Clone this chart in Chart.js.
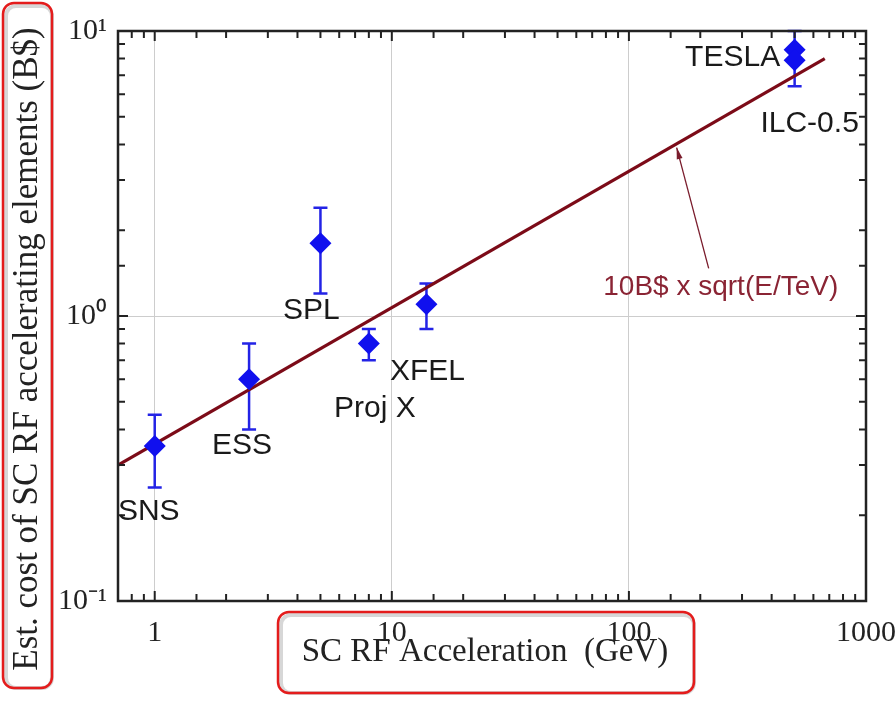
<!DOCTYPE html>
<html>
<head>
<meta charset="utf-8">
<title>SC RF cost vs acceleration</title>
<script src="https://cdn.jsdelivr.net/npm/chart.js@4.4.1/dist/chart.umd.min.js"></script>
<style>
	html, body { margin: 0; padding: 0; background: #fff; }
	#wrap { width: 896px; height: 704px; }
</style>
</head>
<body>
<div id="wrap"><canvas id="costChart" width="896" height="704"></canvas></div>
<script>
// Machines and estimated cost of their SC RF accelerating elements (B$)
const machines = ['SNS', 'ESS', 'SPL', 'Proj X', 'XFEL', 'TESLA', 'ILC-0.5'];
const energyGeV = [1, 2.5, 5, 8, 14, 500, 500];
const costBS = [0.35, 0.6, 1.8, 0.8, 1.1, 8.6, 7.9];
const costLow = [0.25, 0.4, 1.2, 0.7, 0.9, 8.0, 6.4];
const costHigh = [0.45, 0.8, 2.4, 0.9, 1.3, 10, 8.6];

// 10B$ x sqrt(E/TeV) scaling line, end points
const fitX = [0.7, 670];
const fitY = [0.30, 8.0];

// tick labels at the decades
const xTickLabels = { 1: '1', 10: '10', 100: '100', 1000: '1000' };
const yTickLabels = { '-1': '10\u207B\u00B9', '0': '10\u2070', '1': '10\u00B9' };

// label placement next to each point (pixels from the marker centre)
const labelOffsets = [[-6, 66], [-7, 67], [-9, 67], [6, 65], [1, 68], [-62, 8], [15, 64]];

// arrow + text for the scaling law (in data units)
const fitNote = { text: '10B$ x sqrt(E/TeV)', tip: [159, 3.9], tail: [217, 1.47], at: [244, 1.26] };

const isDecade = (v) => Math.abs(Math.log10(v) - Math.round(Math.log10(v))) < 1e-6;

const plotDecor = {
	id: 'plotDecor',
	beforeDatasetsDraw(chart) {
		// Error bars go under the diamonds
		const { ctx, scales: { x, y } } = chart;
		ctx.save();
		ctx.strokeStyle = '#2323e6';
		ctx.lineWidth = 2.5;
		energyGeV.forEach((e, i) => {
			const px = x.getPixelForValue(e);
			const top = y.getPixelForValue(costHigh[i]);
			const bot = y.getPixelForValue(costLow[i]);
			ctx.beginPath();
			ctx.moveTo(px, top); ctx.lineTo(px, bot);
			ctx.moveTo(px - 7, top); ctx.lineTo(px + 7, top);
			ctx.moveTo(px - 7, bot); ctx.lineTo(px + 7, bot);
			ctx.stroke();
		});
		ctx.restore();
	},
	afterDraw(chart) {
		const { ctx, chartArea: a, scales: { x, y } } = chart;
		ctx.save();

		// inward tick marks on all four sides
		ctx.strokeStyle = '#222';
		ctx.lineWidth = 2;
		ctx.beginPath();
		x.ticks.forEach((t) => {
			const px = x.getPixelForValue(t.value);
			const len = isDecade(t.value) ? 10 : 7;
			ctx.moveTo(px, a.bottom); ctx.lineTo(px, a.bottom - len);
			ctx.moveTo(px, a.top); ctx.lineTo(px, a.top + len);
		});
		y.ticks.forEach((t) => {
			const py = y.getPixelForValue(t.value);
			const len = isDecade(t.value) ? 10 : 7;
			ctx.moveTo(a.left, py); ctx.lineTo(a.left + len, py);
			ctx.moveTo(a.right, py); ctx.lineTo(a.right - len, py);
		});
		ctx.stroke();

		// frame
		ctx.lineWidth = 2.5;
		ctx.strokeRect(a.left, a.top, a.right - a.left, a.bottom - a.top);

		// machine names
		ctx.fillStyle = '#1a1a1a';
		ctx.font = '30px "Liberation Sans", Arial, sans-serif';
		ctx.textAlign = 'center';
		ctx.textBaseline = 'middle';
		machines.forEach((name, i) => {
			const px = x.getPixelForValue(energyGeV[i]) + labelOffsets[i][0];
			const py = y.getPixelForValue(costBS[i]) + labelOffsets[i][1];
			ctx.fillText(name, px, py);
		});

		// arrow pointing at the scaling line
		const tipX = x.getPixelForValue(fitNote.tip[0]), tipY = y.getPixelForValue(fitNote.tip[1]);
		const tailX = x.getPixelForValue(fitNote.tail[0]), tailY = y.getPixelForValue(fitNote.tail[1]);
		const ang = Math.atan2(tipY - tailY, tipX - tailX);
		ctx.strokeStyle = '#7a1c2c';
		ctx.fillStyle = '#7a1c2c';
		ctx.lineWidth = 1.3;
		ctx.beginPath();
		ctx.moveTo(tailX, tailY); ctx.lineTo(tipX, tipY);
		ctx.stroke();
		ctx.beginPath();
		ctx.moveTo(tipX, tipY);
		ctx.lineTo(tipX - 12 * Math.cos(ang - 0.25), tipY - 12 * Math.sin(ang - 0.25));
		ctx.lineTo(tipX - 12 * Math.cos(ang + 0.25), tipY - 12 * Math.sin(ang + 0.25));
		ctx.closePath();
		ctx.fill();
		ctx.font = '28px "Liberation Sans", Arial, sans-serif';
		ctx.fillStyle = '#8a2434';
		ctx.fillText(fitNote.text, x.getPixelForValue(fitNote.at[0]), y.getPixelForValue(fitNote.at[1]));

		// axis titles
		ctx.fillStyle = '#222';
		ctx.font = '33px "Liberation Serif", "Times New Roman", serif';
		ctx.fillText('SC RF Acceleration  (GeV)', 485, 652);
		ctx.save();
		ctx.translate(28, 349);
		ctx.rotate(-Math.PI / 2);
		ctx.font = '35px "Liberation Serif", "Times New Roman", serif';
		ctx.fillText('Est. cost of SC RF accelerating elements (B$)', 0, 0);
		ctx.restore();

		// red highlight boxes round the titles
		const box = (bx, by, bw, bh) => {
			ctx.strokeStyle = 'rgba(140,140,140,0.35)';
			ctx.lineWidth = 4;
			ctx.beginPath();
			ctx.roundRect(bx + 3, by + 3, bw - 3, bh - 3, 10);
			ctx.stroke();
			ctx.strokeStyle = '#e41c1c';
			ctx.lineWidth = 2.5;
			ctx.beginPath();
			ctx.roundRect(bx, by, bw, bh, 11);
			ctx.stroke();
		};
		box(3, 3, 49, 685);
		box(278, 612, 416, 81);

		ctx.restore();
	}
};

const ctx = document.getElementById('costChart').getContext('2d');
new Chart(ctx, {
	type: 'scatter',
	data: {
		datasets: [{
			label: 'Machines',
			data: energyGeV.map((e, i) => ({ x: e, y: costBS[i] })),
			pointStyle: 'rectRot',
			pointRadius: 11,
			backgroundColor: '#1010ee',
			borderColor: '#1010ee',
			borderWidth: 0,
			order: 1
		}, {
			label: '10B$ x sqrt(E/TeV)',
			data: fitX.map((e, i) => ({ x: e, y: fitY[i] })),
			showLine: true,
			borderColor: '#7c0b18',
			borderWidth: 3.2,
			pointRadius: 0,
			order: 2
		}]
	},
	options: {
		responsive: false,
		animation: false,
		layout: {
			padding: { top: 31, right: 30, left: 0, bottom: 0 }
		},
		plugins: {
			legend: { display: false },
			tooltip: { enabled: false }
		},
		scales: {
			x: {
				type: 'logarithmic',
				min: 0.7,
				max: 1000,
				afterFit: (scale) => {
					scale.height = 103;
					scale.paddingLeft = 0;
					scale.paddingRight = 0;
				},
				border: { display: false },
				grid: {
					drawTicks: false,
					lineWidth: 1,
					color: (c) => (c.tick && isDecade(c.tick.value) && c.tick.value < 1000 ? '#cdcdcd' : 'rgba(0,0,0,0)')
				},
				ticks: {
					autoSkip: false,
					maxRotation: 0,
					padding: 14,
					color: '#222',
					font: { family: '"Liberation Serif", "Times New Roman", serif', size: 30 },
					callback: (v) => xTickLabels[v] || ''
				}
			},
			y: {
				type: 'logarithmic',
				min: 0.1,
				max: 10,
				afterFit: (scale) => {
					scale.width = 118;
					scale.paddingTop = 0;
					scale.paddingBottom = 0;
				},
				border: { display: false },
				grid: {
					drawTicks: false,
					lineWidth: 1,
					color: (c) => (c.tick && c.tick.value === 1 ? '#cdcdcd' : 'rgba(0,0,0,0)')
				},
				ticks: {
					autoSkip: false,
					padding: 11,
					color: '#222',
					font: { family: '"Liberation Serif", "Times New Roman", serif', size: 30 },
					callback: (v) => {
						const p = Math.round(Math.log10(v));
						return isDecade(v) ? (yTickLabels[p] || '') : '';
					}
				}
			}
		}
	},
	plugins: [plotDecor]
});
</script>
</body>
</html>
